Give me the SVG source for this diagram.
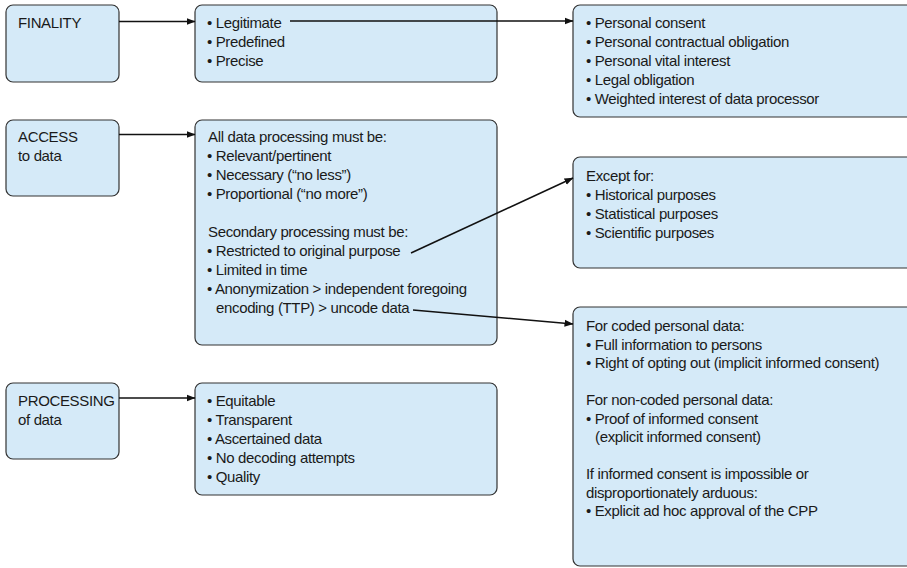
<svg xmlns="http://www.w3.org/2000/svg" width="907" height="568" viewBox="0 0 907 568">
<style>
.box{fill:#d5eaf8;stroke:#333;stroke-width:1.2}
.t{font-family:"Liberation Sans Narrow","Liberation Sans",Arial,sans-serif;font-size:15px;letter-spacing:-0.35px;fill:#1a1a1a}
.c{fill:none;stroke:#111;stroke-width:1.6}
</style>
<defs>
<marker id="ah" markerUnits="userSpaceOnUse" markerWidth="9" markerHeight="8" refX="8.5" refY="4" orient="auto">
<path d="M0,0.5 L9,4 L0,7.5 Z" fill="#111"/>
</marker>
</defs>
<rect width="907" height="568" fill="#fff"/>
<g id="finality">
<rect class="box" x="6" y="5" width="113" height="77" rx="7"/>
<text class="t" x="18" y="28">FINALITY</text>
</g>
<g id="access">
<rect class="box" x="6" y="120" width="113" height="76" rx="7"/>
<text class="t"><tspan x="18" y="142">ACCESS</tspan><tspan x="18" y="161">to data</tspan></text>
</g>
<g id="processing">
<rect class="box" x="6" y="383" width="113" height="76" rx="7"/>
<text class="t"><tspan x="18" y="406">PROCESSING</tspan><tspan x="18" y="425">of data</tspan></text>
</g>
<g id="finality-criteria">
<rect class="box" x="195" y="5" width="302" height="77" rx="7"/>
<text class="t"><tspan x="207" y="28">• Legitimate</tspan><tspan x="207" y="47">• Predefined</tspan><tspan x="207" y="66">• Precise</tspan></text>
</g>
<g id="access-rules">
<rect class="box" x="195" y="120" width="302" height="225" rx="7"/>
<text class="t"><tspan x="208" y="142">All data processing must be:</tspan><tspan x="207" y="161">• Relevant/pertinent</tspan><tspan x="207" y="180">• Necessary (“no less”)</tspan><tspan x="207" y="199">• Proportional (“no more”)</tspan><tspan x="208" y="237">Secondary processing must be:</tspan><tspan x="207" y="256">• Restricted to original purpose</tspan><tspan x="207" y="275">• Limited in time</tspan><tspan x="207" y="294">• Anonymization &gt; independent foregoing</tspan><tspan x="216" y="313">encoding (TTP) &gt; uncode data</tspan></text>
</g>
<g id="processing-rules">
<rect class="box" x="195" y="383" width="302" height="112" rx="7"/>
<text class="t"><tspan x="207" y="406">• Equitable</tspan><tspan x="207" y="425">• Transparent</tspan><tspan x="207" y="444">• Ascertained data</tspan><tspan x="207" y="463">• No decoding attempts</tspan><tspan x="207" y="482">• Quality</tspan></text>
</g>
<g id="legal-bases">
<rect class="box" x="573" y="5" width="360" height="112" rx="7"/>
<text class="t"><tspan x="586" y="28">• Personal consent</tspan><tspan x="586" y="47">• Personal contractual obligation</tspan><tspan x="586" y="66">• Personal vital interest</tspan><tspan x="586" y="85">• Legal obligation</tspan><tspan x="586" y="104">• Weighted interest of data processor</tspan></text>
</g>
<g id="exceptions">
<rect class="box" x="573" y="157" width="360" height="111" rx="7"/>
<text class="t"><tspan x="586" y="181">Except for:</tspan><tspan x="586" y="200">• Historical purposes</tspan><tspan x="586" y="219">• Statistical purposes</tspan><tspan x="586" y="238">• Scientific purposes</tspan></text>
</g>
<g id="consent">
<rect class="box" x="573" y="307" width="360" height="259" rx="7"/>
<text class="t"><tspan x="586" y="331">For coded personal data:</tspan><tspan x="586" y="349.5">• Full information to persons</tspan><tspan x="586" y="368">• Right of opting out (implicit informed consent)</tspan><tspan x="586" y="405">For non-coded personal data:</tspan><tspan x="586" y="423.5">• Proof of informed consent</tspan><tspan x="595" y="442">(explicit informed consent)</tspan><tspan x="586" y="479">If informed consent is impossible or</tspan><tspan x="586" y="497.5">disproportionately arduous:</tspan><tspan x="586" y="516">• Explicit ad hoc approval of the CPP</tspan></text>
</g>
<g id="connectors">
<path class="c" d="M119,21.5 H195" marker-end="url(#ah)"/>
<path class="c" d="M290,21 H573" marker-end="url(#ah)"/>
<path class="c" d="M119,134.5 H195" marker-end="url(#ah)"/>
<path class="c" d="M119,398 H195" marker-end="url(#ah)"/>
<path class="c" d="M411,253 L573,178" marker-end="url(#ah)"/>
<path class="c" d="M413,310 L573,324" marker-end="url(#ah)"/>
</g>
</svg>
